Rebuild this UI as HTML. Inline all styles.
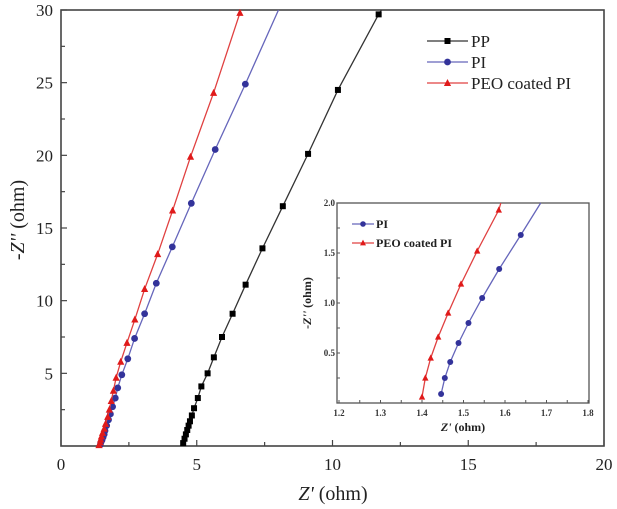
<!DOCTYPE html>
<html><head><meta charset="utf-8"><style>
html,body{margin:0;padding:0;background:#fff;}
svg{display:block;font-family:"Liberation Serif",serif;}
</style></head><body>
<svg id="chart" width="617" height="509" viewBox="0 0 617 509" xmlns="http://www.w3.org/2000/svg">
<g id="main"></g>
<g id="inset"></g>
</svg>
<script>
// Main chart data
const ppX = [4.5,4.55,4.6,4.65,4.7,4.75,4.82,4.9,5.04,5.17,5.4,5.63,5.93,6.32,6.8,7.42,8.17,9.1,10.2,11.7];
const ppY = [0.2,0.5,0.8,1.1,1.4,1.7,2.1,2.6,3.3,4.1,5.0,6.1,7.5,9.1,11.1,13.6,16.5,20.1,24.5,29.7];
const piX = [1.45,1.47,1.51,1.55,1.59,1.62,1.68,1.75,1.82,1.9,2.0,2.09,2.24,2.46,2.71,3.08,3.51,4.1,4.8,5.68,6.79];
const piY = [0.1,0.25,0.4,0.6,0.8,1.05,1.4,1.8,2.2,2.7,3.3,4.0,4.9,6.0,7.4,9.1,11.2,13.7,16.7,20.4,24.9];
const piEndX = 8.01, piEndY = 30;
const peoX = [1.4,1.44,1.46,1.49,1.53,1.59,1.64,1.72,1.78,1.85,1.93,2.03,2.2,2.43,2.72,3.08,3.56,4.11,4.77,5.62,6.59];
const peoY = [0.06,0.25,0.45,0.66,0.9,1.19,1.52,2.0,2.5,3.1,3.8,4.7,5.8,7.1,8.7,10.8,13.2,16.2,19.9,24.3,29.8];
const xTicks = [0,5,10,15,20];
const yTicks = [5,10,15,20,25,30];
// Inset data
const inPiX = [1.446,1.455,1.468,1.488,1.512,1.545,1.586,1.638];
const inPiY = [0.09,0.25,0.41,0.60,0.80,1.05,1.34,1.68];
const inPiEnd = [1.686,2.0];
const inPeoX = [1.400,1.408,1.421,1.439,1.463,1.494,1.533,1.585];
const inPeoY = [0.06,0.25,0.45,0.66,0.90,1.19,1.52,1.93];
const inPeoEnd = [1.59,2.0];
const inXTicks = [1.2,1.3,1.4,1.5,1.6,1.7,1.8];
const inYTicks = ["0.5","1.0","1.5","2.0"];

const NS="http://www.w3.org/2000/svg";
function mk(parent,tag,attrs,text){const e=document.createElementNS(NS,tag);for(const k in attrs)e.setAttribute(k,attrs[k]);if(text!==undefined)e.textContent=text;parent.appendChild(e);return e;}
const COL={pp:"#000",pi:"#33339a",peo:"#e01a1a"};
const LCOL={pp:"#333",pi:"#6666bb",peo:"#e04040"};
function marker(g,type,cx,cy,s){
  let m;
  if(type==="pp") m=mk(g,"rect",{x:cx-s,y:cy-s,width:2*s,height:2*s,fill:COL.pp});
  else if(type==="pi") m=mk(g,"circle",{cx:cx,cy:cy,r:s+0.4,fill:COL.pi});
  else m=mk(g,"polygon",{points:`${cx},${cy-s-1} ${cx-s-0.6},${cy+s} ${cx+s+0.6},${cy+s}`,fill:COL.peo});
  return m;
}
// main axes
const main=document.getElementById("main");
const L=61,R=604,T=10,B=446;
const X=v=>L+(v-0)/20*(R-L);
const Y=v=>B-(v-0)/30*(B-T);
const frame=mk(main,"rect",{x:L,y:T,width:R-L,height:B-T,fill:"none",stroke:"#444","stroke-width":1.6});


for(let v=0;v<=20;v+=2.5){
  const len=(v%5===0)?6:4;
  mk(main,"line",{x1:X(v),x2:X(v),y1:B,y2:B-len,stroke:"#444","stroke-width":1.2});
}
for(let v=2.5;v<=30;v+=2.5){
  const len=(v%5===0)?6:4;
  mk(main,"line",{x1:L,x2:L+len,y1:Y(v),y2:Y(v),stroke:"#444","stroke-width":1.2});
}
xTicks.forEach(v=>{const t=mk(main,"text",{x:X(v),y:470,"font-size":17,"text-anchor":"middle",fill:"#222"},String(v));

});
yTicks.forEach(v=>{const t=mk(main,"text",{x:53,y:Y(v)+6,"font-size":17,"text-anchor":"end",fill:"#222"},String(v));

});
const xt=mk(main,"text",{x:333,y:500,"font-size":20,"text-anchor":"middle",fill:"#222"});
xt.innerHTML='<tspan font-style="italic">Z\'</tspan> (ohm)';


const yt=mk(main,"text",{x:0,y:0,"font-size":20,"text-anchor":"middle",fill:"#222",transform:"translate(24,220) rotate(-90)"});
yt.innerHTML='-<tspan font-style="italic">Z\'\'</tspan> (ohm)';



function series(g,xs,ys,end,type,Xf,Yf,s,name){
  const sg=mk(g,"g",{});
  
  
  let pts=xs.map((x,i)=>Xf(x)+","+Yf(ys[i]));
  if(end) pts.push(Xf(end[0])+","+Yf(end[1]));
  mk(sg,"polyline",{points:pts.join(" "),fill:"none",stroke:LCOL[type],"stroke-width":1.3});
  xs.forEach((x,i)=>{const m=marker(sg,type,Xf(x),Yf(ys[i]),s);
    
    });
}
series(main,ppX,ppY,[11.8,30],"pp",X,Y,3,"series-pp");
series(main,piX,piY,[piEndX,piEndY],"pi",X,Y,3,"series-pi");
series(main,peoX,peoY,[6.62,30],"peo",X,Y,3,"series-peo");
// legend
const legend=mk(main,"g",{});


[["pp","PP",41],["pi","PI",62],["peo","PEO coated PI",83]].forEach(([k,lab,y])=>{
  const e=mk(legend,"g",{});
  
  
  mk(e,"line",{x1:427,x2:468,y1:y,y2:y,stroke:LCOL[k],"stroke-width":1.3});
  marker(e,k,447.5,y,3);
  mk(e,"text",{x:471,y:y+6,"font-size":17,fill:"#222"},lab);
});
// inset
const inset=document.getElementById("inset");
const iL=337,iR=589,iT=203,iB=403;
const IX=v=>339+(v-1.2)/0.6*(588-339);
const IY=v=>iB-v/2*(iB-iT);
const iframe=mk(inset,"rect",{x:iL,y:iT,width:iR-iL,height:iB-iT,fill:"#fff",stroke:"#555","stroke-width":1.3});


for(let v=1.2;v<=1.801;v+=0.05){mk(inset,"line",{x1:IX(v),x2:IX(v),y1:iB,y2:iB-3,stroke:"#555"});}
for(let v=0.25;v<=2.0;v+=0.25){mk(inset,"line",{x1:iL,x2:iL+3,y1:IY(v),y2:IY(v),stroke:"#555"});}
inXTicks.forEach(v=>{const t=mk(inset,"text",{x:IX(v),y:416,"font-size":9,"font-weight":"bold","text-anchor":"middle",fill:"#333"},v.toFixed(1));

});
inYTicks.forEach(v=>{const t=mk(inset,"text",{x:335,y:IY(parseFloat(v))+3,"font-size":9,"font-weight":"bold","text-anchor":"end",fill:"#333"},v);

});
const ixt=mk(inset,"text",{x:463,y:431,"font-size":12,"font-weight":"bold","text-anchor":"middle",fill:"#222"});
ixt.innerHTML='<tspan font-style="italic">Z\'</tspan> (ohm)';


const iyt=mk(inset,"text",{x:0,y:0,"font-size":12,"font-weight":"bold","text-anchor":"middle",fill:"#222",transform:"translate(311,303) rotate(-90)"});
iyt.innerHTML='-<tspan font-style="italic">Z\'\'</tspan> (ohm)';


series(inset,inPiX,inPiY,inPiEnd,"pi",IX,IY,2.6,"inset-series-pi");
series(inset,inPeoX,inPeoY,inPeoEnd,"peo",IX,IY,2.6,"inset-series-peo");
const ileg=mk(inset,"g",{});


[["pi","PI",224],["peo","PEO coated PI",243]].forEach(([k,lab,y])=>{
  const e=mk(ileg,"g",{});
  
  
  mk(e,"line",{x1:352,x2:374,y1:y,y2:y,stroke:LCOL[k],"stroke-width":1.2});
  marker(e,k,363,y,2.4);
  mk(e,"text",{x:376,y:y+4,"font-size":12,"font-weight":"bold",fill:"#222"},lab);
});
</script>
</body></html>
